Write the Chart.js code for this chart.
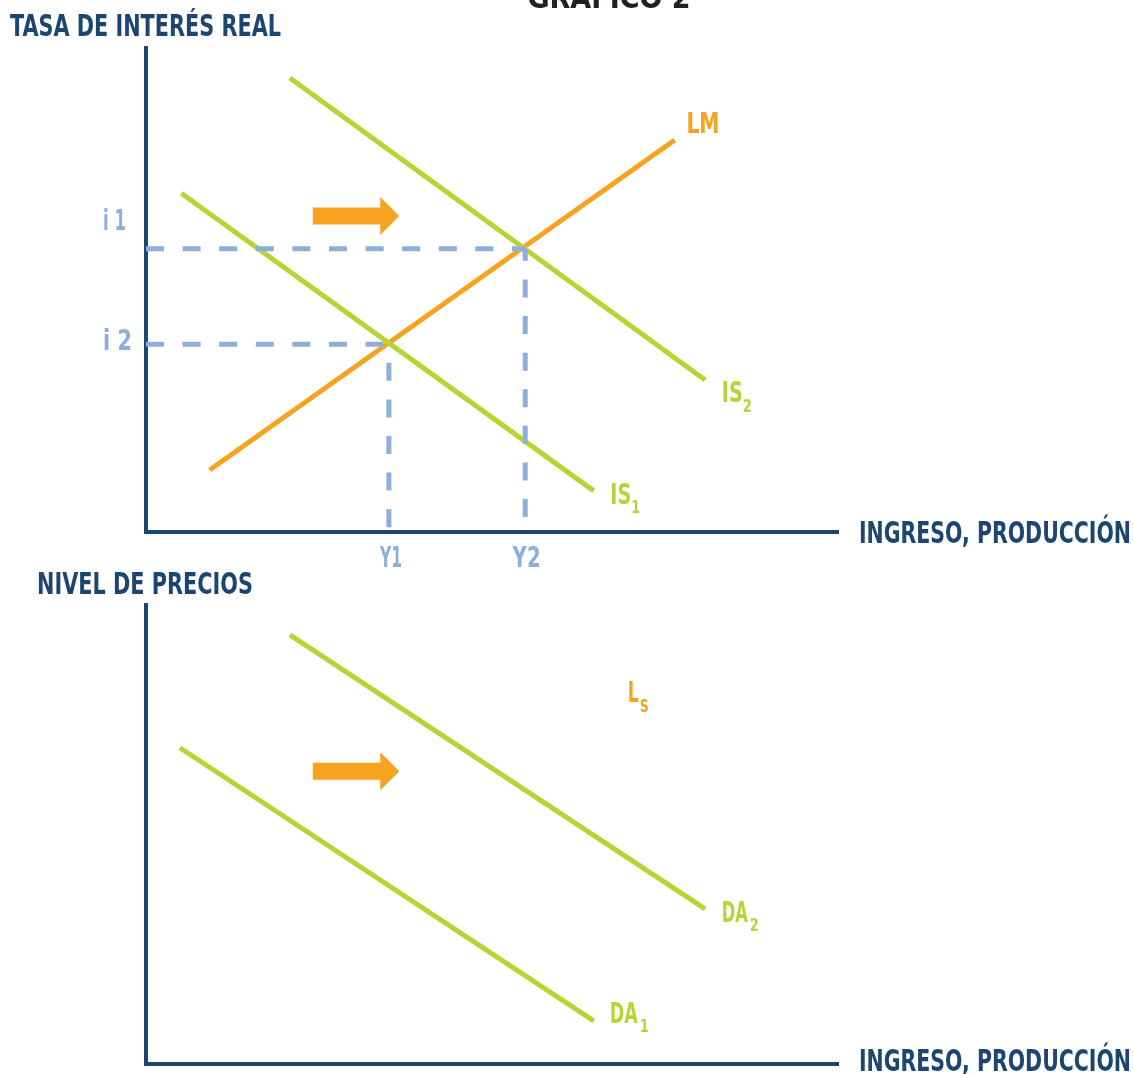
<!DOCTYPE html>
<html><head><meta charset="utf-8">
<script src="https://cdn.jsdelivr.net/npm/chart.js@4.4.0/dist/chart.umd.min.js"></script>
<style>
html,body{margin:0;padding:0;background:#fff;}
#wrap{position:relative;width:1134px;height:1074px;overflow:hidden;background:#fff;}
canvas{position:absolute;left:0;}
</style></head><body>
<div id="wrap">
<canvas id="top" width="1134" height="578" style="top:0"></canvas>
<canvas id="bot" width="1134" height="514" style="top:560px"></canvas>
</div>
<script>
// ---- data (abstract units: x 0..100, y 0..100) ----
const topCurveNames = ['IS1', 'IS2', 'LM'];
const is1X = [5.1, 64.7];  const is1Y = [70.0, 8.5];
const is2X = [20.8, 80.8]; const is2Y = [93.8, 31.4];
const lmX  = [9.2, 76.4];  const lmY  = [12.8, 81.0];
const eqIncome = [35.1, 54.8];   // Y1, Y2
const eqRate   = [38.8, 58.5];   // i2, i1
const incomeTickLabels = ['Y1', 'Y2'];
const rateTickLabels   = ['i 2', 'i 1'];
const botCurveNames = ['DA1', 'DA2'];
const da1X = [4.9, 64.7];  const da1Y = [68.9, 9.4];
const da2X = [20.8, 80.8]; const da2Y = [93.5, 33.8];
const shiftArrowX = [24.1, 36.6];  // arrow from -> to (income units)

// ---- styles ----
const GREEN = '#b8d434', ORANGE = '#f6a31f', NAVY = '#1c4572', LBLUE = '#8caedc', DARK = '#231f20';
const FONT = '"DejaVu Sans Condensed", "Liberation Sans Narrow", "DejaVu Sans", sans-serif';

function pts(xs, ys) { return xs.map((x, i) => ({x: x, y: ys[i]})); }
function curve(label, xs, ys, color) {
  return {label, data: pts(xs, ys), borderColor: color, borderWidth: 5, showLine: true,
          pointRadius: 0, fill: false, order: 2, borderCapStyle: 'butt'};
}
function dashed(label, xs, ys, off) {
  return {label, data: pts(xs, ys), borderColor: LBLUE, borderWidth: 5, showLine: true,
          pointRadius: 0, fill: false, order: 1, borderDash: [18, 18.6], borderDashOffset: off};
}

function drawText(ctx, s, x, y, size, color, align, w) {
  ctx.font = 'bold ' + size + 'px ' + FONT;
  ctx.fillStyle = color; ctx.textAlign = align; ctx.textBaseline = 'alphabetic';
  const m = ctx.measureText(s).width;
  if (w && m > w) ctx.fillText(s, x, y, w); else ctx.fillText(s, x, y);
}

const annotPlugin = {
  id: 'annot',
  afterDatasetsDraw(chart, args, opts) {
    const ctx = chart.ctx, xs = chart.scales.x, ys = chart.scales.y;
    ctx.save();
    if (opts.arrow) {
      const a = opts.arrow;
      const x0 = xs.getPixelForValue(a.x0), x1 = xs.getPixelForValue(a.x1), yc = ys.getPixelForValue(a.y);
      const head = 19, bh = 8.5, hh = 19;
      ctx.fillStyle = ORANGE;
      ctx.beginPath();
      ctx.moveTo(x0, yc - bh); ctx.lineTo(x1 - head, yc - bh); ctx.lineTo(x1 - head, yc - hh);
      ctx.lineTo(x1, yc); ctx.lineTo(x1 - head, yc + hh); ctx.lineTo(x1 - head, yc + bh);
      ctx.lineTo(x0, yc + bh); ctx.closePath(); ctx.fill();
    }
    (opts.labels || []).forEach(l => {
      const px = xs.getPixelForValue(l.x), py = ys.getPixelForValue(l.y);
      drawText(ctx, l.text, px, py, l.size || 29, l.color, l.align || 'left', l.w);
      if (l.sub) drawText(ctx, l.sub, px + l.sdx, py + l.sdy, 17, l.color, 'left', l.sw);
    });
    (opts.titles || []).forEach(t => drawText(ctx, t.text, t.x, t.y, t.size || 30, t.color, t.align || 'left', t.w));
    ctx.restore();
  }
};

function scalesCfg() {
  return {
    x: {type: 'linear', min: 0, max: 100, grid: {display: false, drawTicks: false}, ticks: {display: false},
        border: {display: true, color: NAVY, width: 4}},
    y: {type: 'linear', min: 0, max: 100, grid: {display: false, drawTicks: false}, ticks: {display: false},
        border: {display: true, color: NAVY, width: 4}}
  };
}

// ---- top chart: IS-LM ----
new Chart(document.getElementById('top'), {
  type: 'scatter',
  data: {datasets: [
    curve(topCurveNames[0], is1X, is1Y, GREEN),
    curve(topCurveNames[1], is2X, is2Y, GREEN),
    curve(topCurveNames[2], lmX, lmY, ORANGE),
    dashed('h-i2', [0, eqIncome[0]], [eqRate[0], eqRate[0]], 0),
    dashed('h-i1', [0, eqIncome[1]], [eqRate[1], eqRate[1]], 0),
    dashed('v-Y1', [eqIncome[0], eqIncome[0]], [eqRate[0], 0], 18),
    dashed('v-Y2', [eqIncome[1], eqIncome[1]], [eqRate[1], 0], 6)
  ]},
  options: {
    responsive: false, animation: false,
    layout: {padding: {left: 146, right: 296, top: 48, bottom: 46}},
    scales: scalesCfg(),
    plugins: {
      legend: {display: false}, tooltip: {enabled: false},
      annot: {
        arrow: {x0: shiftArrowX[0], x1: shiftArrowX[1], y: 65.3},
        labels: [
          {text: 'LM', x: 78.1, y: 82.4, color: ORANGE, w: 33},
          {text: 'IS', x: 83.2, y: 26.9, color: GREEN, w: 21, sub: '2', sdx: 21, sdy: 10, sw: 9},
          {text: 'IS', x: 67.1, y: 5.8, color: GREEN, w: 21, sub: '1', sdx: 21, sdy: 9, sw: 9},
          {text: rateTickLabels[1], x: -6.2, y: 62.4, color: LBLUE, w: 23, size: 29},
          {text: rateTickLabels[0], x: -6.2, y: 37.6, color: LBLUE, w: 29, size: 29},
          {text: incomeTickLabels[0], x: eqIncome[0] + 0.3, y: -7.2, color: LBLUE, w: 22, align: 'center', size: 29},
          {text: incomeTickLabels[1], x: eqIncome[1] + 0.2, y: -7.2, color: LBLUE, w: 28, align: 'center', size: 29}
        ],
        titles: [
          {text: 'GRÁFICO 2', x: 609, y: 8, color: DARK, w: 165, align: 'center'},
          {text: 'TASA DE INTERÉS REAL', x: 10, y: 36, color: NAVY, w: 271},
          {text: 'INGRESO, PRODUCCIÓN', x: 859, y: 543, color: NAVY, w: 272}
        ]
      }
    }
  },
  plugins: [annotPlugin]
});

// ---- bottom chart: DA ----
new Chart(document.getElementById('bot'), {
  type: 'scatter',
  data: {datasets: [
    curve(botCurveNames[0], da1X, da1Y, GREEN),
    curve(botCurveNames[1], da2X, da2Y, GREEN)
  ]},
  options: {
    responsive: false, animation: false,
    layout: {padding: {left: 146, right: 296, top: 45, bottom: 10}},
    scales: scalesCfg(),
    plugins: {
      legend: {display: false}, tooltip: {enabled: false},
      annot: {
        arrow: {x0: shiftArrowX[0], x1: shiftArrowX[1], y: 63.8},
        labels: [
          {text: 'L', x: 69.6, y: 78.9, color: ORANGE, w: 11, sub: 'S', sdx: 12, sdy: 10, sw: 9},
          {text: 'DA', x: 83.2, y: 31.0, color: GREEN, w: 26, sub: '2', sdx: 28, sdy: 9, sw: 9},
          {text: 'DA', x: 67.0, y: 9.0, color: GREEN, w: 28, sub: '1', sdx: 30, sdy: 9, sw: 9}
        ],
        titles: [
          {text: 'NIVEL DE PRECIOS', x: 37, y: 34, color: NAVY, w: 216},
          {text: 'INGRESO, PRODUCCIÓN', x: 859, y: 511, color: NAVY, w: 272}
        ]
      }
    }
  },
  plugins: [annotPlugin]
});
</script>
</body></html>
